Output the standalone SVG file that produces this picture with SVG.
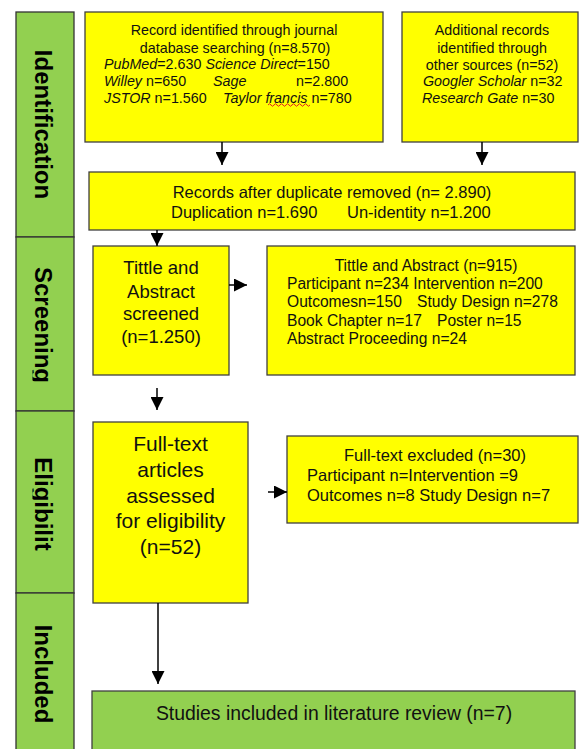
<svg xmlns="http://www.w3.org/2000/svg" width="579" height="749" viewBox="0 0 579 749">
<style>
.box{fill:#ffff00;stroke:#404040;stroke-width:1.3}
.gbox{fill:#92d050;stroke:#404040;stroke-width:1.3}
.col{fill:#92d050;stroke:#333;stroke-width:1.3}
text{font-family:"Liberation Sans",Arial,sans-serif;fill:#111}
.lab{font-weight:bold;font-size:24px;fill:#000}
.s14{font-size:14.3px}
.s16{font-size:16.5px}
.s15{font-size:15.6px}
.s18{font-size:18.5px}
.s21{font-size:21px}
.s19{font-size:19.4px}
.c{text-anchor:middle}
.i{font-style:italic}
.conn line{stroke:#000;stroke-width:1.5;marker-end:url(#ah)}
</style>
<defs>
<marker id="ah" markerUnits="userSpaceOnUse" markerWidth="13" markerHeight="13" refX="13" refY="6.5" orient="auto">
<path d="M0,0 L13,6.5 L0,13 Z" fill="#000"/>
</marker>
<clipPath id="colclip"><rect x="32.5" y="0" width="42" height="760"/></clipPath>
</defs>

<g id="stages">
<rect class="col" x="16" y="12" width="58" height="225"/>
<rect class="col" x="16" y="237" width="58" height="174"/>
<rect class="col" x="16" y="411" width="58" height="182"/>
<rect class="col" x="16" y="593" width="58" height="170"/>
<g clip-path="url(#colclip)">
<text class="lab" text-anchor="middle" transform="translate(35,124.5) rotate(90)">Identification</text>
<text class="lab" text-anchor="middle" transform="translate(35,325) rotate(90)">Screening</text>
<text class="lab" text-anchor="middle" transform="translate(35,504) rotate(90)">Eligibilit</text>
<text class="lab" text-anchor="middle" transform="translate(35,674) rotate(90)">Included</text>
</g>
</g>

<g id="n-database">
<rect class="box" x="85" y="12" width="298" height="130"/>
<text class="s14 c" x="234" y="35">Record identified through journal</text>
<text class="s14 c" x="235" y="53">database searching (n=8.570)</text>
<text class="s14" x="104" y="69"><tspan class="i">PubMed</tspan>=2.630 <tspan class="i">Science Direct</tspan>=150</text>
<text class="s14" x="104" y="86"><tspan class="i">Willey</tspan> n=650</text>
<text class="s14 i" x="213" y="86">Sage</text>
<text class="s14" x="296" y="86">n=2.800</text>
<text class="s14" x="104" y="103"><tspan class="i">JSTOR</tspan> n=1.560</text>
<text class="s14" x="223" y="103"><tspan class="i">Taylor francis</tspan> n=780</text>
<path d="M268,105 q1.5,-2.5 3,0 t3,0 t3,0 t3,0 t3,0 t3,0 t3,0 t3,0 t3,0 t3,0 t3,0 t3,0 t3,0 t3,0" fill="none" stroke="#e02020" stroke-width="1"/>
</g>

<g id="n-other">
<rect class="box" x="402" y="12" width="176" height="130"/>
<text class="s14 c" x="492" y="35">Additional records</text>
<text class="s14 c" x="492" y="53">identified through</text>
<text class="s14 c" x="492" y="70">other sources (n=52)</text>
<text class="s14" x="423" y="86"><tspan class="i">Googler Scholar</tspan> n=32</text>
<text class="s14" x="422" y="103"><tspan class="i">Research Gate</tspan> n=30</text>
</g>

<g id="n-dedup">
<rect class="box" x="89" y="172" width="486" height="58"/>
<text class="s16 c" x="332" y="198">Records after duplicate removed (n= 2.890)</text>
<text class="s16" x="171" y="218">Duplication n=1.690</text>
<text class="s16" x="347" y="218">Un-identity n=1.200</text>
</g>

<g id="n-screened">
<rect class="box" x="93" y="246" width="136" height="129"/>
<text class="s18 c" x="161" y="274">Tittle and</text>
<text class="s18 c" x="161" y="298">Abstract</text>
<text class="s18 c" x="161" y="320">screened</text>
<text class="s18 c" x="161" y="343">(n=1.250)</text>
</g>

<g id="n-screen-excl">
<rect class="box" x="267" y="246" width="308" height="129"/>
<text class="s15 c" x="426" y="270.5">Tittle and Abstract (n=915)</text>
<text class="s15" x="287" y="288.5">Participant n=234 Intervention n=200</text>
<text class="s15" x="287" y="307">Outcomesn=150</text>
<text class="s15" x="417" y="307">Study Design n=278</text>
<text class="s15" x="287" y="325.5">Book Chapter n=17</text>
<text class="s15" x="437" y="325.5">Poster n=15</text>
<text class="s15" x="287" y="343.5">Abstract Proceeding n=24</text>
</g>

<g id="n-fulltext">
<rect class="box" x="93" y="422" width="155" height="181"/>
<text class="s21 c" x="170.5" y="451">Full-text</text>
<text class="s21 c" x="170.5" y="477">articles</text>
<text class="s21 c" x="170.5" y="503">assessed</text>
<text class="s21 c" x="170.5" y="528">for eligibility</text>
<text class="s21 c" x="170.5" y="554">(n=52)</text>
</g>

<g id="n-fulltext-excl">
<rect class="box" x="287" y="436" width="291" height="87"/>
<text class="s16 c" x="435" y="461">Full-text excluded (n=30)</text>
<text class="s16" x="307" y="481">Participant n=Intervention =9</text>
<text class="s16" x="307" y="501">Outcomes n=8 Study Design n=7</text>
</g>

<g id="n-included">
<rect class="gbox" x="92" y="691" width="483" height="75"/>
<text class="s19 c" x="334" y="720">Studies included in literature review (n=7)</text>
</g>

<g id="connectors" class="conn">
<line x1="222" y1="142" x2="222" y2="165"/>
<line x1="482" y1="142" x2="482" y2="165"/>
<line x1="157" y1="230" x2="157" y2="246"/>
<line x1="229" y1="285" x2="247" y2="285"/>
<line x1="157" y1="388" x2="157" y2="410"/>
<line x1="268" y1="492" x2="287" y2="492"/>
<line x1="158" y1="603" x2="158" y2="684"/>
</g>
</svg>
